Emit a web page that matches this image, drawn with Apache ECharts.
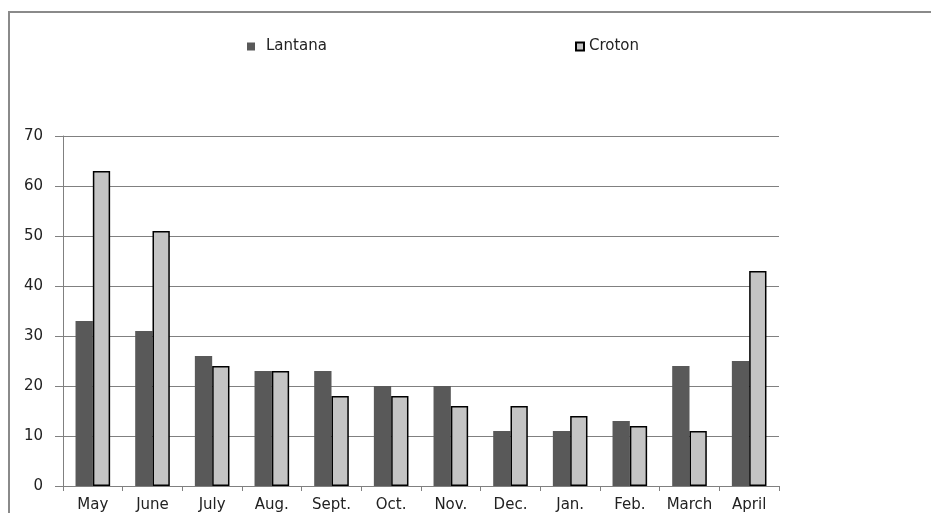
<!DOCTYPE html>
<html>
<head>
<meta charset="utf-8">
<script src="https://cdn.jsdelivr.net/npm/echarts@6/dist/echarts.min.js"></script>
<style>
  html, body { margin: 0; padding: 0; background: #fff; }
  #chart { width: 931px; height: 513px; }
</style>
</head>
<body>
<div id="chart"></div>
<script>
// Monthly counts for the two plants
const months = ['May', 'June', 'July', 'Aug.', 'Sept.', 'Oct.', 'Nov.', 'Dec.', 'Jan.', 'Feb.', 'March', 'April'];
const lantana = [33, 31, 26, 23, 23, 20, 20, 11, 11, 13, 24, 25];
const croton = [63, 51, 24, 23, 18, 18, 16, 16, 14, 12, 11, 43];
const yTicks = { min: 0, max: 70, interval: 10 };

const font = 'DejaVu Sans';
const chart = echarts.init(document.getElementById('chart'), null, { renderer: 'canvas' });

chart.setOption({
  animation: false,
  backgroundColor: '#fff',
  textStyle: { fontFamily: font },
  graphic: [
    {
      type: 'polyline',
      shape: { points: [[9, 520], [9, 12], [935, 12]] },
      style: { stroke: '#8a8a8a', lineWidth: 2, fill: null },
      silent: true
    }
  ],
  legend: [
    {
      data: [{ name: 'Lantana', icon: 'rect' }],
      left: 242, top: 34,
      itemWidth: 8, itemHeight: 8, itemGap: 0,
      textStyle: { fontFamily: font, fontSize: 15, color: '#222', padding: [0, 0, 0, 6] }
    },
    {
      data: [{ name: 'Croton', icon: 'rect' }],
      left: 570, top: 34,
      itemWidth: 8, itemHeight: 8, itemGap: 0,
      textStyle: { fontFamily: font, fontSize: 15, color: '#222', padding: [0, 0, 0, 0] }
    }
  ],
  grid: { left: 63, right: 152, top: 136, bottom: 26, containLabel: false },
  xAxis: {
    type: 'category',
    data: months,
    axisLine: { lineStyle: { color: '#808080', width: 1 } },
    axisTick: { show: true, length: 5, alignWithLabel: false, lineStyle: { color: '#808080' } },
    axisLabel: { fontFamily: font, fontSize: 15, color: '#222', margin: 12, interval: 0 },
    splitLine: { show: false }
  },
  yAxis: {
    type: 'value',
    min: yTicks.min, max: yTicks.max, interval: yTicks.interval,
    axisLine: { show: true, lineStyle: { color: '#808080', width: 1 } },
    axisTick: { show: true, length: 8, lineStyle: { color: '#808080' } },
    axisLabel: { fontFamily: font, fontSize: 15, color: '#222', margin: 20 },
    splitLine: { show: true, lineStyle: { color: '#808080', width: 1 } }
  },
  series: [
    {
      name: 'Lantana',
      type: 'bar',
      data: lantana,
      barGap: '0%',
      barCategoryGap: '42%',
      itemStyle: { color: '#595959' }
    },
    {
      name: 'Croton',
      type: 'bar',
      data: croton,
      barGap: '0%',
      barCategoryGap: '42%',
      itemStyle: { color: '#c4c4c4', borderColor: '#000', borderWidth: 1.5 }
    }
  ]
});
</script>
</body>
</html>
